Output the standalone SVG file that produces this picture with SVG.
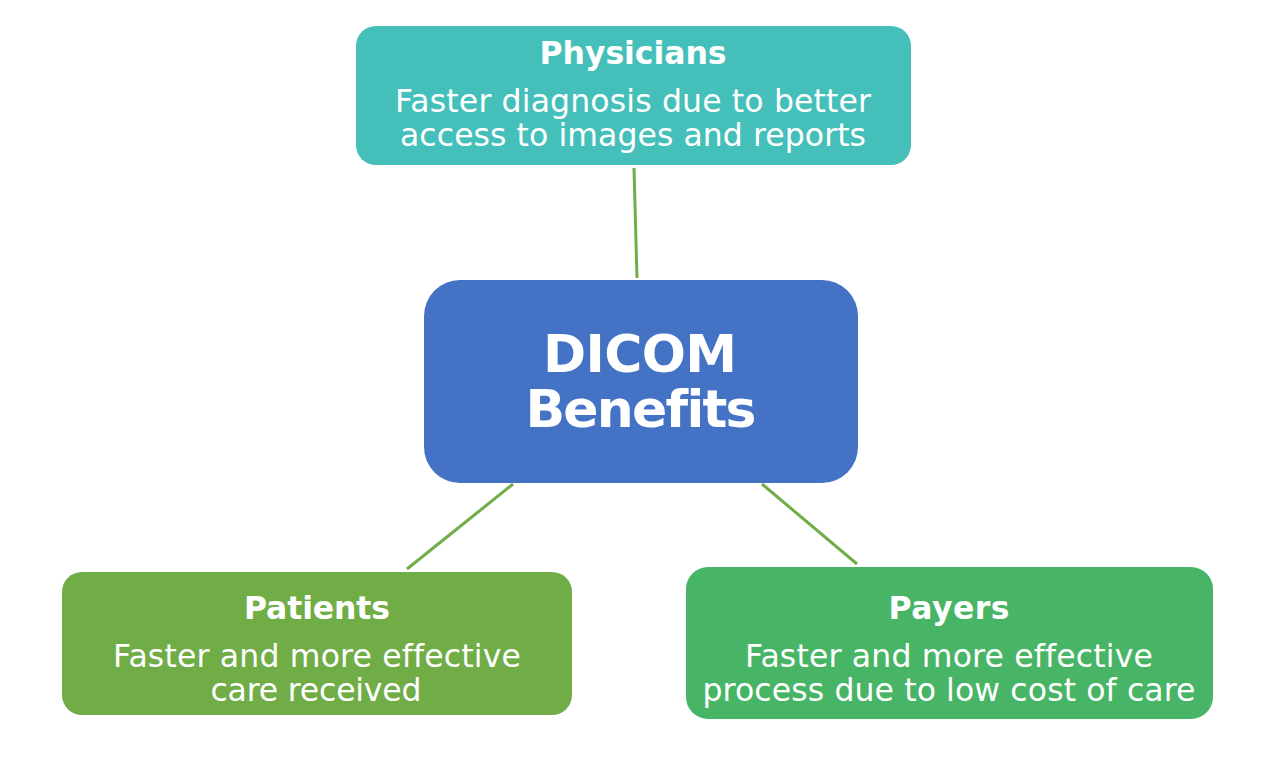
<svg xmlns="http://www.w3.org/2000/svg" width="1274" height="760" viewBox="0 0 1274 760">
<style>
.t{font-family:"DejaVu Sans","Verdana",sans-serif;fill:#fff;text-anchor:middle;font-variant-ligatures:none}
.h{font-weight:bold;font-size:31.5px}
.b{font-size:31.5px}
.c{font-weight:bold;font-size:52px}
.con{stroke:#70AD47;stroke-width:3;fill:none}
</style>
<rect width="1274" height="760" fill="#fff"/>
<g id="connectors">
<line class="con" x1="634" y1="168" x2="637" y2="278"/>
<line class="con" x1="513" y1="484" x2="407" y2="569"/>
<line class="con" x1="762" y1="484" x2="857" y2="564"/>
</g>
<g id="physicians">
<rect x="356" y="26" width="555" height="139" rx="20" fill="#45BFB9"/>
<text class="t h" x="633" y="64" textLength="187">Physicians</text>
<text class="t b" x="633" y="112" textLength="476">Faster diagnosis due to better</text>
<text class="t b" x="633" y="146" textLength="466">access to images and reports</text>
</g>
<g id="dicom">
<rect x="424" y="280" width="434" height="203" rx="36" fill="#4472C4"/>
<text class="t c" x="640" y="372" textLength="194">DICOM</text>
<text class="t c" x="641" y="427" textLength="231">Benefits</text>
</g>
<g id="patients">
<rect x="62" y="572" width="510" height="143" rx="20" fill="#70AD47"/>
<text class="t h" x="317" y="619" textLength="146">Patients</text>
<text class="t b" x="317" y="667" textLength="408">Faster and more effective</text>
<text class="t b" x="316" y="701" textLength="211">care received</text>
</g>
<g id="payers">
<rect x="686" y="567" width="527" height="152" rx="22" fill="#47B565"/>
<text class="t h" x="949" y="619" textLength="121">Payers</text>
<text class="t b" x="949" y="667" textLength="408">Faster and more effective</text>
<text class="t b" x="949" y="701" textLength="493">process due to low cost of care</text>
</g>
</svg>
